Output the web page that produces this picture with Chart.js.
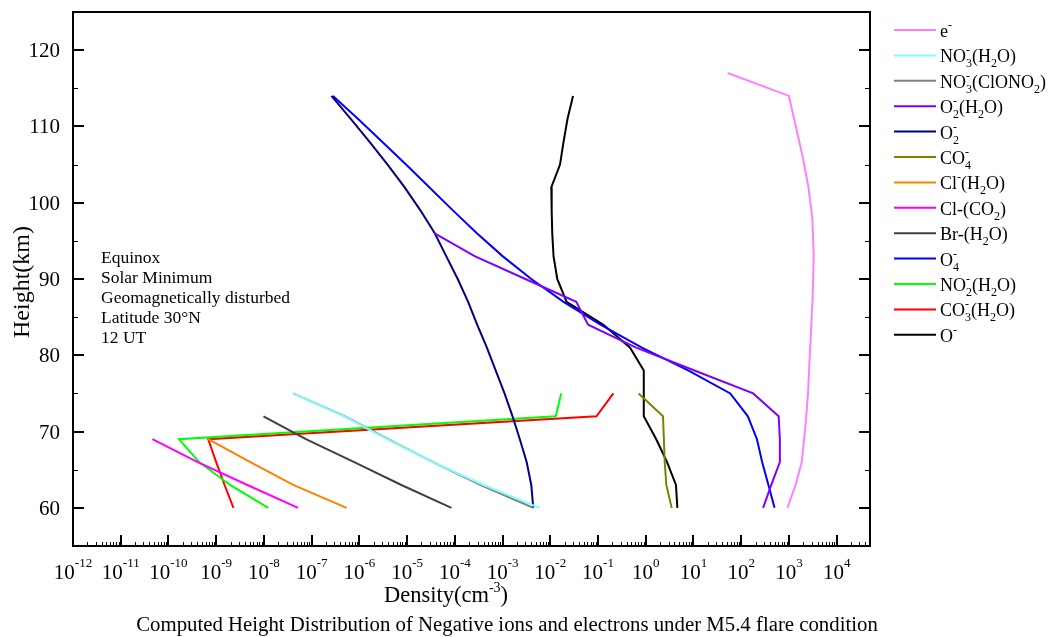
<!DOCTYPE html>
<html>
<head>
<meta charset="utf-8">
<script src="https://cdn.jsdelivr.net/npm/chart.js@4.4.0/dist/chart.umd.min.js"></script>
<style>
  html, body { margin: 0; padding: 0; background: #fff; }
</style>
</head>
<body>
<canvas id="grafico" width="1052" height="637"></canvas>
<script>
// altezze (km) dei profili
const hElectron = [117, 114, 106, 102, 98, 93, 88, 84, 79, 75, 71, 66, 63, 60];
const hUpper = [114, 111, 108, 105, 102, 99, 96, 93, 90, 87, 84, 81, 78, 75, 72, 69, 66, 63, 60];
const hO2H2O = [96, 93, 90, 87, 84, 81, 78, 75, 72, 69, 66, 63, 60];
const h75 = [75, 72, 69, 66, 63, 60];
const h72 = [72, 69, 66, 63, 60];
const h69 = [69, 66, 63, 60];

// densita' (cm^-3)
const eMinus = [52, 1000, 1950, 2570, 3090, 3310, 3160, 2950, 2690, 2510, 2240, 1860, 1380, 930];
const no3H2O = [4.1e-8, 4.8e-7, 3.8e-6, 3.5e-5, 4.0e-4, 6.0e-3];
const no3ClONO2 = [4.1e-8, 5.0e-7, 4.0e-6, 3.5e-5, 3.5e-4, 4.4e-3];
const o2H2O = [3.7e-5, 2.6e-4, 3.0e-3, 3.5e-2, 6.2e-2, 0.63, 10.5, 178, 610, 646, 646, 427, 288];
const o2Minus = [2.6e-7, 6.6e-7, 1.62e-6, 3.9e-6, 8.9e-6, 1.9e-5, 3.8e-5, 6.6e-5, 1.15e-4, 1.9e-4, 2.95e-4, 4.7e-4, 7.2e-4, 1.1e-3, 1.62e-3, 2.3e-3, 3.2e-3, 4.0e-3, 4.4e-3];
const co4Minus = [0.71, 2.3, 2.4, 2.5, 2.7, 3.5];
const clH2O = [6.8e-10, 5.2e-9, 4.1e-8, 5.4e-7];
const clCO2 = [4.6e-11, 4.1e-10, 4.5e-9, 5.2e-8];
const brH2O = [9.8e-9, 7.6e-8, 7.8e-7, 7.6e-6, 8.5e-5];
const o4Minus = [2.8e-7, 9.3e-7, 3.0e-6, 9.5e-6, 2.95e-5, 9.1e-5, 2.9e-4, 1.0e-3, 4.0e-3, 1.9e-2, 0.115, 0.83, 7.9, 59, 138, 214, 275, 372, 500];
const no2H2O = [1.7e-2, 1.3e-2, 1.66e-10, 4.4e-10, 1.95e-9, 1.23e-8];
const co3H2O = [0.21, 9.3e-2, 6.8e-10, 1.0e-9, 1.5e-9, 2.3e-9];
const oMinus = [3.0e-2, 2.3e-2, 1.9e-2, 1.6e-2, 1.05e-2, 1.07e-2, 1.1e-2, 1.17e-2, 1.4e-2, 2.2e-2, 0.13, 0.47, 0.91, 0.91, 0.91, 1.66, 2.8, 4.3, 4.6];

// etichette della legenda (_ pedice, ^ apice)
const seriesLabels = ["e^-", "NO_3^-(H_2O)", "NO_3^-(ClONO_2)", "O_2^-(H_2O)", "O_2^-", "CO_4^-",
  "Cl^-(H_2O)", "Cl-(CO_2)", "Br-(H_2O)", "O_4^-", "NO_2^-(H_2O)", "CO_3^-(H_2O)", "O^-"];
const seriesHeights = [hElectron, h75, h75, hO2H2O, hUpper, h75, h69, h69, h72, hUpper, h75, h75, hUpper];
const seriesValues = [eMinus, no3H2O, no3ClONO2, o2H2O, o2Minus, co4Minus, clH2O, clCO2, brH2O, o4Minus, no2H2O, co3H2O, oMinus];
const seriesColors = ["#ff80ff", "#80ffff", "#808080", "#8000ff", "#000080", "#808000",
  "#ff8000", "#ff00ff", "#404040", "#0000ff", "#00ff00", "#ff0000", "#000000"];

// assi
const xTickValues = [1e-12, 1e-11, 1e-10, 1e-9, 1e-8, 1e-7, 1e-6, 1e-5, 1e-4, 1e-3, 1e-2, 1e-1, 1e0, 1e1, 1e2, 1e3, 1e4];
const xTickLabels = ["10^{-12}", "10^{-11}", "10^{-10}", "10^{-9}", "10^{-8}", "10^{-7}", "10^{-6}", "10^{-5}",
  "10^{-4}", "10^{-3}", "10^{-2}", "10^{-1}", "10^{0}", "10^{1}", "10^{2}", "10^{3}", "10^{4}"];
const yTickValues = [60, 70, 80, 90, 100, 110, 120];
const noteLines = ["Equinox", "Solar Minimum", "Geomagnetically disturbed", "Latitude 30°N", "12 UT"];

const SERIF = '"Liberation Serif", "Times New Roman", serif';

function parseRich(s) {
  let out = [], i = 0;
  while (i < s.length) {
    let c = s[i];
    if (c === "_" || c === "^") {
      let kind = c === "_" ? "sub" : "sup", t;
      if (s[i + 1] === "{") {
        let j = s.indexOf("}", i);
        t = s.slice(i + 2, j);
        i = j + 1;
      } else {
        t = s[i + 1];
        i += 2;
      }
      out.push({ t: t, kind: kind });
    } else {
      if (out.length && out[out.length - 1].kind === "n") out[out.length - 1].t += c;
      else out.push({ t: c, kind: "n" });
      i++;
    }
  }
  return out;
}

// testo con pedici e apici (pedice e apice consecutivi vengono sovrapposti)
function drawRich(ctx, s, x, y, size, small, subDy, supDy, align) {
  let parts = parseRich(s), items = [], w = 0;
  for (let k = 0; k < parts.length; k++) {
    let p = parts[k];
    if (p.kind === "n") {
      ctx.font = size + "px " + SERIF;
      items.push({ p: p, x: w, size: size });
      w += ctx.measureText(p.t).width;
    } else {
      ctx.font = small + "px " + SERIF;
      let pw = ctx.measureText(p.t).width, q = parts[k + 1];
      items.push({ p: p, x: w, size: small });
      if (q && q.kind !== "n" && q.kind !== p.kind) {
        items.push({ p: q, x: w, size: small });
        pw = Math.max(pw, ctx.measureText(q.t).width);
        k++;
      }
      w += pw;
    }
  }
  let x0 = align === "center" ? x - w / 2 : align === "right" ? x - w : x;
  ctx.textAlign = "left";
  ctx.textBaseline = "alphabetic";
  items.forEach((it) => {
    ctx.font = it.size + "px " + SERIF;
    let dy = it.p.kind === "sub" ? subDy : it.p.kind === "sup" ? supDy : 0;
    ctx.fillText(it.p.t, x0 + it.x, y + dy);
  });
}

const decorPlugin = {
  id: "decor",
  afterDraw(chart) {
    let ctx = chart.ctx, a = chart.chartArea, sx = chart.scales.x, sy = chart.scales.y;
    ctx.save();
    ctx.strokeStyle = "#000";
    ctx.fillStyle = "#000";
    ctx.lineWidth = 2;

    // cornice
    ctx.strokeRect(a.left, a.top, a.right - a.left, a.bottom - a.top);

    // tacche principali (verso l'interno)
    ctx.beginPath();
    xTickValues.forEach((v) => {
      let px = Math.round(sx.getPixelForValue(v));
      ctx.moveTo(px, a.bottom);
      ctx.lineTo(px, a.bottom - 11);
    });
    yTickValues.forEach((v) => {
      let py = Math.round(sy.getPixelForValue(v));
      ctx.moveTo(a.left, py);
      ctx.lineTo(a.left + 11, py);
      ctx.moveTo(a.right, py);
      ctx.lineTo(a.right - 11, py);
    });
    ctx.stroke();

    // tacche secondarie
    ctx.lineWidth = 1;
    ctx.beginPath();
    xTickValues.forEach((v) => {
      for (let m = 2; m <= 9; m++) {
        if (v * m > sx.max) break;
        let pm = Math.round(sx.getPixelForValue(v * m)) + 0.5;
        ctx.moveTo(pm, a.bottom);
        ctx.lineTo(pm, a.bottom - 4);
      }
    });
    yTickValues.forEach((v) => {
      if (v + 5 < sy.max) {
        let pm = Math.round(sy.getPixelForValue(v + 5)) + 0.5;
        ctx.moveTo(a.left, pm);
        ctx.lineTo(a.left + 5, pm);
        ctx.moveTo(a.right, pm);
        ctx.lineTo(a.right - 5, pm);
      }
    });
    ctx.stroke();

    // etichette
    xTickValues.forEach((v, i) => {
      drawRich(ctx, xTickLabels[i], sx.getPixelForValue(v), 579, 21, 13, 0, -12, "center");
    });
    ctx.font = "21px " + SERIF;
    ctx.textAlign = "right";
    ctx.textBaseline = "alphabetic";
    yTickValues.forEach((v) => {
      ctx.fillText(String(v), a.left - 13, sy.getPixelForValue(v) + 7);
    });

    // titoli degli assi
    drawRich(ctx, "Density(cm^{-3})", 446, 602, 22.5, 14, 0, -10, "center");
    ctx.save();
    ctx.translate(29, 282);
    ctx.rotate(-Math.PI / 2);
    ctx.font = "24px " + SERIF;
    ctx.textAlign = "center";
    ctx.textBaseline = "alphabetic";
    ctx.fillText("Height(km)", 0, 0);
    ctx.restore();

    // didascalia
    ctx.font = "20.8px " + SERIF;
    ctx.textAlign = "center";
    ctx.fillText("Computed Height Distribution of Negative ions and electrons under M5.4 flare condition", 507, 631);

    // note
    ctx.font = "17.5px " + SERIF;
    ctx.textAlign = "left";
    noteLines.forEach((t, i) => ctx.fillText(t, 101, 263 + i * 20));

    // legenda
    seriesLabels.forEach((lab, i) => {
      let y = 30 + i * 25.4;
      ctx.strokeStyle = seriesColors[i];
      ctx.lineWidth = 2;
      ctx.beginPath();
      ctx.moveTo(894, y);
      ctx.lineTo(936, y);
      ctx.stroke();
      ctx.fillStyle = "#000";
      drawRich(ctx, lab, 940, y + 7, 18, 12, 5, -8, "left");
    });
    ctx.restore();
  }
};

const datasets = seriesLabels.map((lab, i) => ({
  label: lab,
  data: seriesHeights[i].map((h, k) => ({ x: seriesValues[i][k], y: h })),
  borderColor: seriesColors[i],
  backgroundColor: seriesColors[i],
  borderWidth: 2,
  pointRadius: 0,
  showLine: true,
  fill: false,
  tension: 0,
}));

let ctx = document.getElementById("grafico").getContext("2d");
window.myChart = new Chart(ctx, {
  type: "scatter",
  data: { datasets: datasets },
  options: {
    responsive: false,
    animation: false,
    devicePixelRatio: 1,
    layout: { padding: { left: 73, right: 182, top: 12, bottom: 91 } },
    plugins: { legend: { display: false }, tooltip: { enabled: false } },
    scales: {
      x: { type: "logarithmic", min: 1e-12, max: 5e4, display: false },
      y: { type: "linear", min: 55, max: 125, display: false },
    },
  },
  plugins: [decorPlugin],
});
</script>
</body>
</html>
